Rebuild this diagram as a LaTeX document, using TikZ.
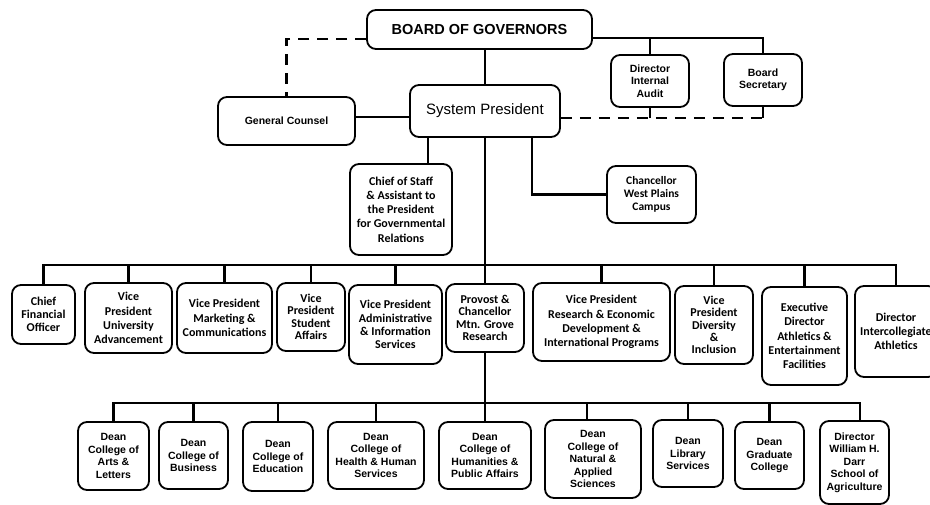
\documentclass[tikz,border=0pt]{standalone}
\usepackage{fontspec}
\setmainfont{Liberation Sans}
\newfontfamily\calfont{Carlito}
\tikzset{
 box/.style={draw, line width=1.8pt, rounded corners=9pt, align=center, inner sep=0pt},
 cal/.style={box, font=\calfont\bfseries\fontsize{12}{14.3}\selectfont},
 ari/.style={box, font=\bfseries\fontsize{10.5}{12.5}\selectfont},
 conn/.style={line width=2.6pt},
 dconn/.style={line width=2.6pt, dash pattern=on 11pt off 8pt},
}
\begin{document}
\begin{tikzpicture}[x=1pt,y=-1pt]
\useasboundingbox (0,0) rectangle (930,505);
% top level
\node[box, minimum width=225pt, minimum height=39pt, font=\bfseries\fontsize{14.5}{16}\selectfont] (bog) at (479.5,29.5) {BOARD OF GOVERNORS};
\node[box, minimum width=150pt, minimum height=52pt, font=\fontsize{15}{17}\selectfont] (sp) at (485,111) {System President};
\node[ari, minimum width=137pt, minimum height=48pt] (gc) at (286.5,121) {General Counsel};
\node[ari, minimum width=78pt, minimum height=52pt] (dia) at (650,81) {Director\\Internal\\Audit};
\node[ari, minimum width=78pt, minimum height=52pt] (bs) at (763,80) {Board\\Secretary};
\node[cal, minimum width=102pt, minimum height=91pt] (cos) at (401,209.5) {Chief of Staff\\\& Assistant to\\the President\\for Governmental\\Relations};
\node[cal, minimum width=89pt, minimum height=57pt, font=\calfont\bfseries\fontsize{11.5}{12.8}\selectfont] (cwp) at (651.5,194.5) {Chancellor\\West Plains\\Campus};
% second row
\node[cal, minimum width=63pt, minimum height=59pt, font=\calfont\bfseries\fontsize{12}{12.8}\selectfont] (cfo) at (43.5,314.5) {Chief\\Financial\\Officer};
\node[cal, minimum width=87pt, minimum height=70pt] (vpua) at (128.5,318) {Vice\\President\\University\\Advancement};
\node[cal, minimum width=95pt, minimum height=70pt] (vpmc) at (224.5,318) {Vice President\\Marketing \&\\Communications};
\node[cal, minimum width=68pt, minimum height=68pt, font=\calfont\bfseries\fontsize{12}{12.5}\selectfont] (vpsa) at (311,317) {Vice\\President\\Student\\Affairs};
\node[cal, minimum width=93pt, minimum height=79pt, font=\calfont\bfseries\fontsize{12}{13.3}\selectfont] (vpai) at (395.5,324.5) {Vice President\\Administrative\\\& Information\\Services};
\node[cal, minimum width=78pt, minimum height=68pt, font=\calfont\bfseries\fontsize{12}{12.4}\selectfont] (prov) at (485,318) {Provost \&\\Chancellor\\Mtn. Grove\\Research};
\node[cal, minimum width=137pt, minimum height=78pt] (vpre) at (601.5,322) {Vice President\\Research \& Economic\\Development \&\\International Programs};
\node[cal, minimum width=78pt, minimum height=78pt, font=\calfont\bfseries\fontsize{12}{12.4}\selectfont] (vpdi) at (714,325) {Vice\\President\\Diversity\\\&\\Inclusion};
\node[cal, minimum width=85pt, minimum height=98pt] (exec) at (804.5,336) {Executive\\Director\\Athletics \&\\Entertainment\\Facilities};
\node[cal, minimum width=82pt, minimum height=91pt] (dic) at (896,331.5) {Director\\Intercollegiate\\Athletics};
% third row
\node[ari, minimum width=71pt, minimum height=68pt] (arts) at (113.5,456) {Dean\\College of\\Arts \&\\Letters};
\node[ari, minimum width=69pt, minimum height=67pt] (bus) at (193.5,455.5) {Dean\\College of\\Business};
\node[ari, minimum width=70pt, minimum height=69pt] (edu) at (278,456.5) {Dean\\College of\\Education};
\node[ari, minimum width=96pt, minimum height=67pt] (hhs) at (376,455.5) {Dean\\College of\\Health \& Human\\Services};
\node[ari, minimum width=92pt, minimum height=67pt] (hpa) at (485,455.5) {Dean\\College of\\Humanities \&\\Public Affairs};
\node[ari, minimum width=96pt, minimum height=78pt] (nas) at (593,459) {Dean\\College of\\Natural \&\\Applied\\Sciences};
\node[ari, minimum width=70pt, minimum height=67pt] (lib) at (688,453.5) {Dean\\Library\\Services};
\node[ari, minimum width=69pt, minimum height=67pt] (grad) at (769.5,455.5) {Dean\\Graduate\\College};
\node[ari, minimum width=69pt, minimum height=83pt] (darr) at (854.5,462.5) {Director\\William H.\\Darr\\School of\\Agriculture};
% helper coordinates
\coordinate (topr) at (0,38);
\coordinate (gl) at (0,39);
\coordinate (dl) at (0,118);
\coordinate (gcl) at (0,117);
\coordinate (r2) at (0,265);
\coordinate (r3) at (0,403);
\coordinate (costop) at ([xshift=27pt]cos.north);
\coordinate (cwpdrop) at ([xshift=47pt]sp.south);
\coordinate (nastop) at ([xshift=-6pt]nas.north);
\coordinate (darrtop) at ([xshift=5.5pt]darr.north);
% top connectors
\draw[conn] (bog.south -| sp.north) -- (sp.north);
\draw[conn] (bog.east |- topr) -| (bs.north);
\draw[conn] (dia.north) -- (dia.north |- topr);
\draw[dconn] (sp.east |- dl) -- (bs.south |- dl);
\draw[conn] (bs.south |- dl) -- (bs.south);
\draw[conn] (dia.south) -- (dia.south |- dl);
\draw[dconn] (bog.west |- gl) -| (gc.north);
\draw[conn] (gc.east |- gcl) -- (sp.west |- gcl);
\draw[conn] (costop) -- (costop |- sp.south);
\draw[conn] (cwpdrop) |- (cwp.west);
% main spine
\draw[conn] (sp.south) -- (prov.north);
\draw[conn] (prov.south) -- (hpa.north);
% second row bar
\draw[conn] (cfo.north) -- (cfo.north |- r2) -- (dic.north |- r2) -- (dic.north);
\foreach \n in {vpua,vpmc,vpsa,vpai,vpre,vpdi,exec}
  \draw[conn] (\n.north) -- (\n.north |- r2);
% third row bar
\draw[conn] (arts.north) -- (arts.north |- r3) -- (darrtop |- r3) -- (darrtop);
\foreach \n in {bus,edu,hhs,lib,grad}
  \draw[conn] (\n.north) -- (\n.north |- r3);
\draw[conn] (nastop) -- (nastop |- r3);
\end{tikzpicture}
\end{document}
